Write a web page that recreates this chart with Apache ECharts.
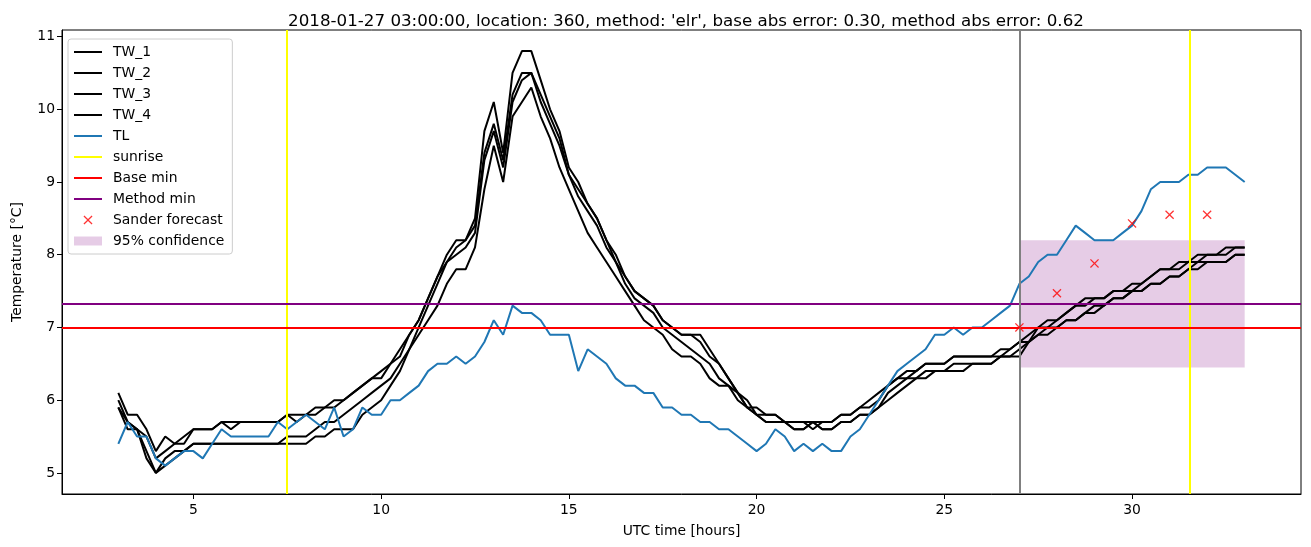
<!DOCTYPE html>
<html>
<head>
<meta charset="utf-8">
<script src="https://cdn.jsdelivr.net/npm/echarts@6/dist/echarts.min.js"></script>
<style>
  html, body { margin: 0; padding: 0; background: #fff; }
  #chart { width: 1311px; height: 547px; }
</style>
</head>
<body>
<div id="chart"></div>
<script>
// time grid (UTC hours), sampled every 15 minutes
const hours = [
  3, 3.25, 3.5, 3.75, 4, 4.25, 4.5, 4.75, 5, 5.25, 5.5, 5.75,
  6, 6.25, 6.5, 6.75, 7, 7.25, 7.5, 7.75, 8, 8.25, 8.5, 8.75,
  9, 9.25, 9.5, 9.75, 10, 10.25, 10.5, 10.75, 11, 11.25, 11.5, 11.75,
  12, 12.25, 12.5, 12.75, 13, 13.25, 13.5, 13.75, 14, 14.25, 14.5, 14.75,
  15, 15.25, 15.5, 15.75, 16, 16.25, 16.5, 16.75, 17, 17.25, 17.5, 17.75,
  18, 18.25, 18.5, 18.75, 19, 19.25, 19.5, 19.75, 20, 20.25, 20.5, 20.75,
  21, 21.25, 21.5, 21.75, 22, 22.25, 22.5, 22.75, 23, 23.25, 23.5, 23.75,
  24, 24.25, 24.5, 24.75, 25, 25.25, 25.5, 25.75, 26, 26.25, 26.5, 26.75,
  27, 27.25, 27.5, 27.75, 28, 28.25, 28.5, 28.75, 29, 29.25, 29.5, 29.75,
  30, 30.25, 30.5, 30.75, 31, 31.25, 31.5, 31.75, 32, 32.25, 32.5, 32.75,
  33
]

const tw1 = [
  6.1, 5.8, 5.8, 5.6, 5.3, 5.5, 5.4, 5.5, 5.6, 5.6, 5.6, 5.7,
  5.6, 5.7, 5.7, 5.7, 5.7, 5.7, 5.8, 5.7, 5.8, 5.8, 5.9, 5.9,
  6.0, 6.1, 6.2, 6.3, 6.4, 6.5, 6.7, 6.9, 7.1, 7.4, 7.7, 8.0,
  8.2, 8.2, 8.5, 9.7, 10.1, 9.4, 10.5, 10.8, 10.8, 10.4, 10.0, 9.7,
  9.2, 9.0, 8.7, 8.5, 8.2, 8.0, 7.7, 7.5, 7.4, 7.3, 7.1, 7.0,
  6.9, 6.9, 6.9, 6.7, 6.5, 6.3, 6.1, 5.9, 5.9, 5.8, 5.8, 5.7,
  5.7, 5.7, 5.7, 5.7, 5.7, 5.8, 5.8, 5.9, 6.0, 6.1, 6.2, 6.3,
  6.4, 6.4, 6.5, 6.5, 6.5, 6.6, 6.6, 6.6, 6.6, 6.6, 6.7, 6.7,
  6.8, 6.9, 7.0, 7.1, 7.1, 7.2, 7.3, 7.4, 7.4, 7.4, 7.5, 7.5,
  7.6, 7.6, 7.7, 7.8, 7.8, 7.9, 7.9, 8.0, 8.0, 8.0, 8.1, 8.1,
  8.1
]
const tw2 = [
  5.9, 5.7, 5.6, 5.5, 5.2, 5.3, 5.4, 5.4, 5.6, 5.6, 5.6, 5.7,
  5.7, 5.7, 5.7, 5.7, 5.7, 5.7, 5.8, 5.8, 5.8, 5.9, 5.9, 6.0,
  6.0, 6.1, 6.2, 6.3, 6.3, 6.5, 6.6, 6.9, 7.1, 7.4, 7.7, 7.9,
  8.1, 8.2, 8.4, 9.4, 9.8, 9.3, 10.2, 10.5, 10.5, 10.2, 9.9, 9.6,
  9.1, 8.9, 8.7, 8.5, 8.2, 7.9, 7.7, 7.5, 7.4, 7.3, 7.1, 7.0,
  6.9, 6.9, 6.8, 6.6, 6.5, 6.3, 6.1, 6.0, 5.8, 5.8, 5.8, 5.7,
  5.7, 5.7, 5.6, 5.7, 5.7, 5.8, 5.8, 5.9, 5.9, 6.0, 6.2, 6.3,
  6.3, 6.4, 6.5, 6.5, 6.5, 6.6, 6.6, 6.6, 6.6, 6.6, 6.6, 6.7,
  6.8, 6.8, 7.0, 7.0, 7.1, 7.2, 7.3, 7.3, 7.4, 7.4, 7.5, 7.5,
  7.5, 7.6, 7.7, 7.8, 7.8, 7.8, 7.9, 7.9, 8.0, 8.0, 8.0, 8.1,
  8.1
]
const tw3 = [
  5.9, 5.6, 5.6, 5.3, 5.0, 5.2, 5.3, 5.3, 5.4, 5.4, 5.4, 5.4,
  5.4, 5.4, 5.4, 5.4, 5.4, 5.4, 5.5, 5.5, 5.5, 5.6, 5.7, 5.7,
  5.8, 5.9, 6.0, 6.1, 6.2, 6.3, 6.5, 6.7, 7.0, 7.3, 7.6, 7.9,
  8.0, 8.1, 8.3, 9.3, 9.7, 9.2, 10.1, 10.4, 10.5, 10.1, 9.8, 9.5,
  9.1, 8.8, 8.6, 8.4, 8.1, 7.9, 7.6, 7.4, 7.3, 7.2, 7.0, 6.9,
  6.8, 6.7, 6.6, 6.5, 6.3, 6.2, 6.1, 5.9, 5.8, 5.7, 5.7, 5.7,
  5.6, 5.6, 5.7, 5.6, 5.6, 5.7, 5.7, 5.8, 5.8, 5.9, 6.1, 6.2,
  6.3, 6.3, 6.4, 6.4, 6.4, 6.5, 6.5, 6.5, 6.5, 6.5, 6.6, 6.6,
  6.7, 6.8, 6.9, 7.0, 7.0, 7.1, 7.1, 7.2, 7.3, 7.3, 7.4, 7.4,
  7.5, 7.5, 7.6, 7.6, 7.7, 7.7, 7.8, 7.9, 7.9, 7.9, 7.9, 8.0,
  8.0
]
const tw4 = [
  6.0, 5.7, 5.6, 5.2, 5.0, 5.1, 5.2, 5.3, 5.4, 5.4, 5.4, 5.4,
  5.4, 5.4, 5.4, 5.4, 5.4, 5.4, 5.4, 5.4, 5.4, 5.5, 5.5, 5.6,
  5.6, 5.6, 5.8, 5.9, 6.0, 6.2, 6.4, 6.7, 6.9, 7.1, 7.3, 7.6,
  7.8, 7.8, 8.1, 8.9, 9.5, 9.0, 9.9, 10.1, 10.3, 9.9, 9.6, 9.2,
  8.9, 8.6, 8.3, 8.1, 7.9, 7.7, 7.5, 7.3, 7.1, 7.0, 6.9, 6.7,
  6.6, 6.6, 6.5, 6.3, 6.2, 6.2, 6.0, 5.9, 5.8, 5.7, 5.7, 5.7,
  5.6, 5.6, 5.7, 5.6, 5.6, 5.7, 5.7, 5.8, 5.8, 5.9, 6.0, 6.1,
  6.2, 6.3, 6.3, 6.4, 6.4, 6.4, 6.4, 6.5, 6.5, 6.5, 6.6, 6.6,
  6.6, 6.8, 6.9, 6.9, 7.0, 7.1, 7.1, 7.2, 7.2, 7.3, 7.4, 7.4,
  7.5, 7.5, 7.6, 7.6, 7.7, 7.7, 7.8, 7.8, 7.9, 7.9, 7.9, 8.0,
  8.0
]
const tl = [
  5.4, 5.7, 5.5, 5.5, 5.2, 5.1, 5.2, 5.3, 5.3, 5.2, 5.4, 5.6,
  5.5, 5.5, 5.5, 5.5, 5.5, 5.7, 5.6, 5.7, 5.8, 5.7, 5.6, 5.9,
  5.5, 5.6, 5.9, 5.8, 5.8, 6.0, 6.0, 6.1, 6.2, 6.4, 6.5, 6.5,
  6.6, 6.5, 6.6, 6.8, 7.1, 6.9, 7.3, 7.2, 7.2, 7.1, 6.9, 6.9,
  6.9, 6.4, 6.7, 6.6, 6.5, 6.3, 6.2, 6.2, 6.1, 6.1, 5.9, 5.9,
  5.8, 5.8, 5.7, 5.7, 5.6, 5.6, 5.5, 5.4, 5.3, 5.4, 5.6, 5.5,
  5.3, 5.4, 5.3, 5.4, 5.3, 5.3, 5.5, 5.6, 5.8, 6.0, 6.2, 6.4,
  6.5, 6.6, 6.7, 6.9, 6.9, 7.0, 6.9, 7.0, 7.0, 7.1, 7.2, 7.3,
  7.6, 7.7, 7.9, 8.0, 8.0, 8.2, 8.4, 8.3, 8.2, 8.2, 8.2, 8.3,
  8.4, 8.6, 8.9, 9.0, 9.0, 9.0, 9.1, 9.1, 9.2, 9.2, 9.2, 9.1,
  9.0
]

const sunriseHours = [7.48, 31.53]
const baseMin = 7.0
const methodMin = 7.32
const forecastStart = 27
const forecastHours = [27, 28, 29, 30, 31, 32]
const forecastValues = [7.0, 7.47, 7.88, 8.43, 8.55, 8.55]
const confHours = [27, 33]
const confRange = [6.45, 8.2]

const xTicks = [5, 10, 15, 20, 25, 30]
const yTicks = [5, 6, 7, 8, 9, 10, 11]

const FONT = 'DejaVu Sans'
const CROSS = 'path://M0,1L1,0L5,4L9,0L10,1L6,5L10,9L9,10L5,6L1,10L0,9L4,5Z'
const BAND = 'rgba(128,0,128,0.2)'

const chart = echarts.init(document.getElementById('chart'))

function pairs (ys) {
  return hours.map((h, i) => [h, ys[i]])
}

function twSeries (name, ys) {
  return {
    name: name,
    type: 'line',
    data: pairs(ys),
    symbol: 'none',
    z: 3,
    lineStyle: { color: '#000', width: 2 },
    itemStyle: { color: '#000' }
  }
}

function refLine (name, color, data, z) {
  return {
    name: name,
    type: 'line',
    data: [],
    symbol: 'none',
    lineStyle: { color: color, width: 2 },
    itemStyle: { color: color },
    markLine: {
      silent: true,
      symbol: 'none',
      label: { show: false },
      lineStyle: { color: color, width: 2, type: 'solid' },
      data: data,
      z: z
    }
  }
}

// legend entries for lines: hide the dot, keep the stroke
function lineEntry (name) {
  return { name: name, itemStyle: { color: 'rgba(0,0,0,0)', borderWidth: 0, opacity: 0 } }
}

const option = {
  animation: false,
  title: {
    text: "2018-01-27 03:00:00, location: 360, method: 'elr', base abs error: 0.30, method abs error: 0.62",
    left: 681,
    textAlign: 'center',
    top: 8,
    textStyle: { fontFamily: FONT, fontSize: 16.7, fontWeight: 'normal', color: '#000' }
  },
  grid: {
    left: 62,
    right: 10,
    top: 30,
    bottom: 53,
    show: true,
    borderColor: '#000',
    borderWidth: 1
  },
  legend: {
    orient: 'vertical',
    left: 68,
    top: 39,
    padding: [6, 8, 6, 5],
    itemWidth: 28,
    itemHeight: 9,
    itemGap: 7,
    backgroundColor: 'rgba(255,255,255,0.8)',
    borderColor: '#cccccc',
    borderWidth: 1,
    borderRadius: 3,
    textStyle: { fontFamily: FONT, fontSize: 13.9, color: '#000', lineHeight: 14, padding: [0, 0, 0, 6] },
    data: [
      lineEntry('TW_1'), lineEntry('TW_2'), lineEntry('TW_3'), lineEntry('TW_4'),
      lineEntry('TL'), lineEntry('sunrise'), lineEntry('Base min'), lineEntry('Method min'),
      { name: 'Sander forecast', icon: CROSS },
      { name: '95% confidence', icon: 'rect' }
    ]
  },
  xAxis: {
    type: 'value',
    min: 1.5,
    max: 34.5,
    name: 'UTC time [hours]',
    nameLocation: 'middle',
    nameGap: 30,
    nameTextStyle: { fontFamily: FONT, fontSize: 13.9, color: '#000' },
    axisLine: { lineStyle: { color: '#000', width: 1 } },
    axisTick: { show: true, length: 5, customValues: xTicks, lineStyle: { color: '#000' } },
    axisLabel: { customValues: xTicks, margin: 9, fontFamily: FONT, fontSize: 13.9, color: '#000' },
    splitLine: { show: false }
  },
  yAxis: {
    type: 'value',
    min: 4.71,
    max: 11.09,
    name: 'Temperature [°C]',
    nameLocation: 'middle',
    nameGap: 38,
    nameTextStyle: { fontFamily: FONT, fontSize: 13.9, color: '#000' },
    axisLine: { show: true, lineStyle: { color: '#000', width: 1 } },
    axisTick: { show: true, length: 5, customValues: yTicks, lineStyle: { color: '#000' } },
    axisLabel: { customValues: yTicks, margin: 7, fontFamily: FONT, fontSize: 13.9, color: '#000' },
    splitLine: { show: false }
  },
  series: [
    {
      name: '95% confidence',
      type: 'line',
      data: [],
      symbol: 'none',
      itemStyle: { color: BAND },
      lineStyle: { color: BAND },
      markArea: {
        silent: true,
        itemStyle: { color: BAND },
        data: [[
          { xAxis: confHours[0], yAxis: confRange[0] },
          { xAxis: confHours[1], yAxis: confRange[1] }
        ]]
      }
    },
    twSeries('TW_1', tw1),
    twSeries('TW_2', tw2),
    twSeries('TW_3', tw3),
    twSeries('TW_4', tw4),
    {
      name: 'TL',
      type: 'line',
      data: pairs(tl),
      symbol: 'none',
      z: 3,
      lineStyle: { color: '#1f77b4', width: 2 },
      itemStyle: { color: '#1f77b4' }
    },
    refLine('sunrise', '#ffff00', sunriseHours.map(h => ({ xAxis: h })), 4),
    refLine('Base min', '#ff0000', [{ yAxis: baseMin }], 4),
    refLine('Method min', '#800080', [{ yAxis: methodMin }], 4),
    {
      type: 'line',
      data: [],
      markLine: {
        silent: true,
        symbol: 'none',
        label: { show: false },
        lineStyle: { color: '#808080', width: 2, type: 'solid' },
        data: [{ xAxis: forecastStart }]
      }
    },
    {
      name: 'Sander forecast',
      type: 'scatter',
      symbol: CROSS,
      symbolSize: 9,
      z: 5,
      itemStyle: { color: '#ff0000' },
      data: forecastHours.map((h, i) => [h, forecastValues[i]])
    }
  ]
}

chart.setOption(option)
</script>
</body>
</html>
